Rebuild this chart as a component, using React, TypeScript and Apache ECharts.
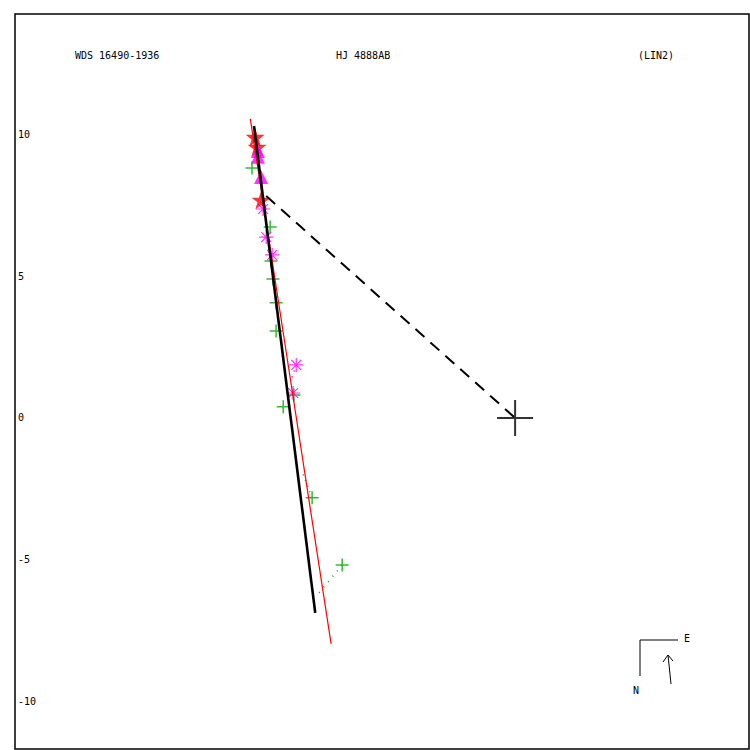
import React, { useEffect, useRef } from "react";
import * as echarts from "echarts";

// Plot coordinates (arcsec-like units), origin at primary star
const redStars: number[][] = [[-9.17, 9.91], [-9.10, 9.56], [-8.96, 7.69]];
const magentaTriangles: number[][] = [[-9.07, 9.42], [-9.07, 9.21], [-8.96, 8.50]];
const greenPlus: number[][] = [
  [-9.28, 8.82], [-8.64, 6.74], [-8.61, 5.54], [-8.54, 4.90], [-8.43, 4.06],
  [-8.43, 3.07], [-7.80, 0.81], [-8.18, 0.39], [-7.16, -2.82], [-6.10, -5.19],
];
const magentaAsterisks: number[][] = [
  [-8.89, 7.37], [-8.78, 6.38], [-8.57, 5.75], [-7.72, 1.87], [-7.83, 0.88],
];
const orbitBlack: number[][] = [[-9.21, 10.30], [-7.05, -6.88]];
const fitRed: number[][] = [[-9.34, 10.55], [-6.49, -7.97]];
const dashedLink: number[][] = [[-8.78, 7.83], [0, 0]];
const ocGreen1: number[][] = [[-7.16, -2.82], [-7.48, -1.98]];
const ocGreen2: number[][] = [[-6.10, -5.19], [-6.95, -6.21]];
const ocMagenta: number[][] = [[-7.72, 1.87], [-7.90, 1.34]];
const primary: number[][] = [[0, 0]];
const yTicks: number[] = [-10, -5, 0, 5, 10];

const FONT = "DejaVu Sans Mono";

export default function App() {
  const ref = useRef<HTMLDivElement>(null);
  useEffect(() => {
    document.body.style.margin = "0";
    const chart = echarts.init(ref.current!, null, { renderer: "svg" });
    const plusPath = "path://M5,0L5,10M0,5L10,5";
    const astPath = "path://M5,0L5,10M0,5L10,5M1.5,1.5L8.5,8.5M1.5,8.5L8.5,1.5";
    const starPath = "path://M50,0L61,35L98,35L68,57L79,91L50,70L21,91L32,57L2,35L39,35Z";
    const lineSeries = (data: number[][], color: string, width: number, type: any = "solid") => ({
      type: "line",
      data,
      symbol: "none",
      silent: true,
      lineStyle: { color, width, type },
    });
    chart.setOption({
      animation: false,
      backgroundColor: "#ffffff",
      grid: {
        left: 15, right: 1, top: 14, bottom: 1,
        show: true, borderColor: "#000", borderWidth: 1.5, backgroundColor: "transparent",
      },
      xAxis: {
        type: "value", min: -17.64, max: 8.25,
        axisLine: { show: false }, axisTick: { show: false },
        axisLabel: { show: false }, splitLine: { show: false },
      },
      yAxis: {
        type: "value", min: -11.68, max: 14.25,
        axisLine: { show: false }, axisTick: { show: false }, splitLine: { show: false },
        axisLabel: {
          inside: true, margin: 3, customValues: yTicks,
          fontFamily: FONT, fontSize: 10, color: "#000",
        },
      },
      series: [
        {
          type: "scatter", data: redStars, symbol: starPath, symbolSize: 19,
          itemStyle: { color: "#ff0000" },
        },
        {
          type: "scatter", data: magentaTriangles, symbol: "triangle", symbolSize: 14,
          itemStyle: { color: "#ff00ff" },
        },
        {
          type: "scatter", data: greenPlus, symbol: plusPath, symbolSize: 13,
          itemStyle: { color: "none", borderColor: "#00aa00", borderWidth: 1.5 },
        },
        {
          type: "scatter", data: magentaAsterisks, symbol: astPath, symbolSize: 14,
          itemStyle: { color: "none", borderColor: "#ff00ff", borderWidth: 1.2 },
        },
        lineSeries(ocGreen1, "#00aa00", 1.5, [1, 5]),
        lineSeries(ocGreen2, "#00aa00", 1.5, [1, 6]),
        lineSeries(ocMagenta, "#ff00ff", 1.5, [1, 5]),
        lineSeries(fitRed, "#ff0000", 1.2),
        lineSeries(orbitBlack, "#000000", 2.6),
        lineSeries(dashedLink, "#000000", 2, [12, 8]),
        {
          type: "scatter", data: primary, symbol: plusPath, symbolSize: 36,
          itemStyle: { color: "none", borderColor: "#000", borderWidth: 2 },
        },
      ],
      graphic: [
        { type: "text", x: 75, y: 50, style: { text: "WDS 16490-1936", font: `10px '${FONT}'`, fill: "#000" } },
        { type: "text", x: 336, y: 50, style: { text: "HJ 4888AB", font: `10px '${FONT}'`, fill: "#000" } },
        { type: "text", x: 638, y: 50, style: { text: "(LIN2)", font: `10px '${FONT}'`, fill: "#000" } },
        { type: "line", shape: { x1: 640, y1: 640, x2: 640, y2: 676 }, style: { stroke: "#000", lineWidth: 1 } },
        { type: "line", shape: { x1: 640, y1: 640, x2: 678, y2: 640 }, style: { stroke: "#000", lineWidth: 1 } },
        { type: "text", x: 684, y: 633, style: { text: "E", font: `10px '${FONT}'`, fill: "#000" } },
        { type: "text", x: 633, y: 685, style: { text: "N", font: `10px '${FONT}'`, fill: "#000" } },
        { type: "line", shape: { x1: 671, y1: 684, x2: 668, y2: 655 }, style: { stroke: "#000", lineWidth: 1 } },
        { type: "polyline", shape: { points: [[663, 662], [668, 655], [673, 661]] }, style: { stroke: "#000", lineWidth: 1, fill: "none" } },
      ],
    });
    return () => chart.dispose();
  }, []);
  return <div ref={ref} style={{ width: 750, height: 750 }} />;
}
